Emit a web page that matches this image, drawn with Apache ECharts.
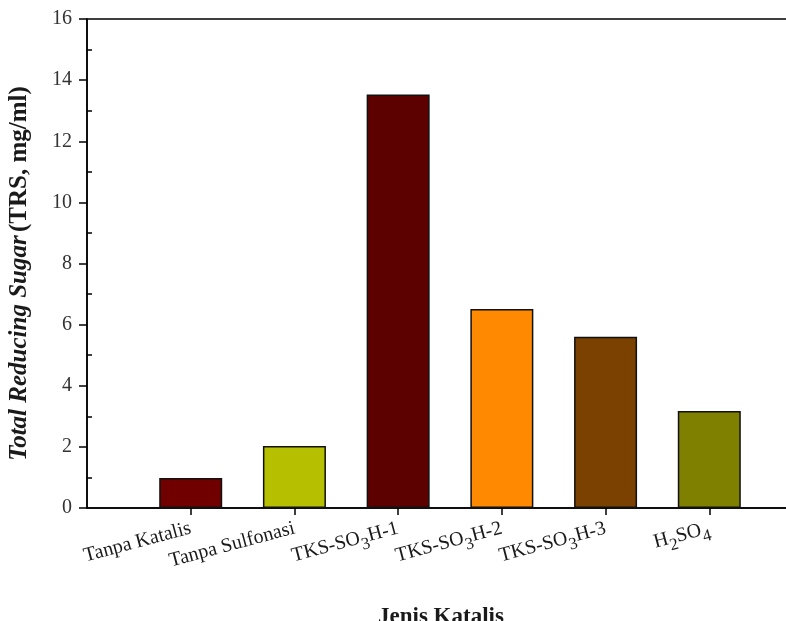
<!DOCTYPE html>
<html>
<head>
<meta charset="utf-8">
<script src="https://cdn.jsdelivr.net/npm/echarts@6/dist/echarts.min.js"></script>
<style>
  html, body { margin: 0; padding: 0; background: #fff; }
  #chart { width: 786px; height: 621px; }
</style>
</head>
<body>
<div id="chart"></div>
<script>
// Catalyst types (rich-text markup handles the chemical subscripts)
const categories = ['Tanpa Katalis', 'Tanpa Sulfonasi', 'TKS-SO3H-1', 'TKS-SO3H-2', 'TKS-SO3H-3', 'H2SO4'];
const categoryLabels = [
  '{n|Tanpa Katalis}',
  '{n|Tanpa Sulfonasi}',
  '{n|TKS-SO}{s|3}{n|H-1}',
  '{n|TKS-SO}{s|3}{n|H-2}',
  '{n|TKS-SO}{s|3}{n|H-3}',
  '{n|H}{s|2}{n|SO}{s|4}'
];
// Total reducing sugar, mg/ml
const trsValues = [0.98, 2.03, 13.53, 6.51, 5.60, 3.17];
const barColors = ['#700000', '#B6C000', '#5C0000', '#FF8900', '#7A4100', '#808000'];
const yTicks = [0, 2, 4, 6, 8, 10, 12, 14, 16];

const FONT = "'Liberation Serif', 'Times New Roman', serif";
const INK = '#1a1a1a';

const positions = categories.map((_, i) => i + 1);

const chart = echarts.init(document.getElementById('chart'), null, { renderer: 'canvas' });

chart.setOption({
  animation: false,
  backgroundColor: '#fff',
  title: {
    text: 'Jenis Katalis',
    left: 373,
    top: 601,
    textStyle: { fontFamily: FONT, fontSize: 23, fontWeight: 'bold', color: INK }
  },
  grid: {
    left: 87, top: 19, bottom: 113, right: -27,
    containLabel: false,
    outerBoundsMode: 'none',
    show: true, borderColor: '#000', borderWidth: 1.5, backgroundColor: 'transparent'
  },
  xAxis: {
    type: 'value',
    min: 0, max: 7, interval: 1,
    splitLine: { show: false },
    axisLine: { show: true, lineStyle: { color: '#000', width: 1.5 } },
    axisTick: { show: true, customValues: positions, length: 7, lineStyle: { color: '#000', width: 1.5 } },
    axisLabel: {
      customValues: positions,
      rotate: 15,
      margin: 20,
      formatter: v => categoryLabels[Math.round(v) - 1] || '',
      rich: {
        n: { fontFamily: FONT, fontSize: 20, color: INK, lineHeight: 20, verticalAlign: 'top' },
        s: { fontFamily: FONT, fontSize: 17, color: INK, lineHeight: 17, padding: [9, 0, 0, 0], verticalAlign: 'top' }
      }
    }
  },
  yAxis: [
    {
      type: 'value',
      min: 0, max: 16, interval: 2,
      splitLine: { show: false },
      axisLine: { show: true, lineStyle: { color: '#000', width: 1.5 } },
      axisTick: { show: true, length: 8, lineStyle: { color: '#000', width: 1.5 } },
      axisLabel: {
        margin: 15,
        fontFamily: FONT, fontSize: 20, color: '#333',
        customValues: yTicks
      },
      name: '{bi|Total Reducing Sugar} {b|(TRS, mg/ml)}',
      nameLocation: 'middle',
      nameGap: 55,
      nameTextStyle: {
        padding: [0, 20, 0, 0],
        rich: {
          bi: { fontFamily: FONT, fontSize: 25, fontWeight: 'bold', fontStyle: 'italic', color: INK },
          b: { fontFamily: FONT, fontSize: 25, fontWeight: 'bold', color: INK }
        }
      }
    },
    {
      // inward minor ticks between the labelled values
      type: 'value',
      position: 'left',
      min: 0, max: 16, interval: 2,
      splitLine: { show: false },
      axisLine: { show: false },
      axisLabel: { show: false },
      axisTick: { show: false, inside: true },
      minorTick: { show: true, splitNumber: 2, length: 5, lineStyle: { color: '#000', width: 1.5 } },
      minorSplitLine: { show: false }
    }
  ],
  series: [{
    type: 'bar',
    yAxisIndex: 0,
    barWidth: 63,
    data: trsValues.map((v, i) => ({
      value: [positions[i], v],
      itemStyle: { color: barColors[i], borderColor: '#111', borderWidth: 1.5 }
    }))
  }]
});
</script>
</body>
</html>
